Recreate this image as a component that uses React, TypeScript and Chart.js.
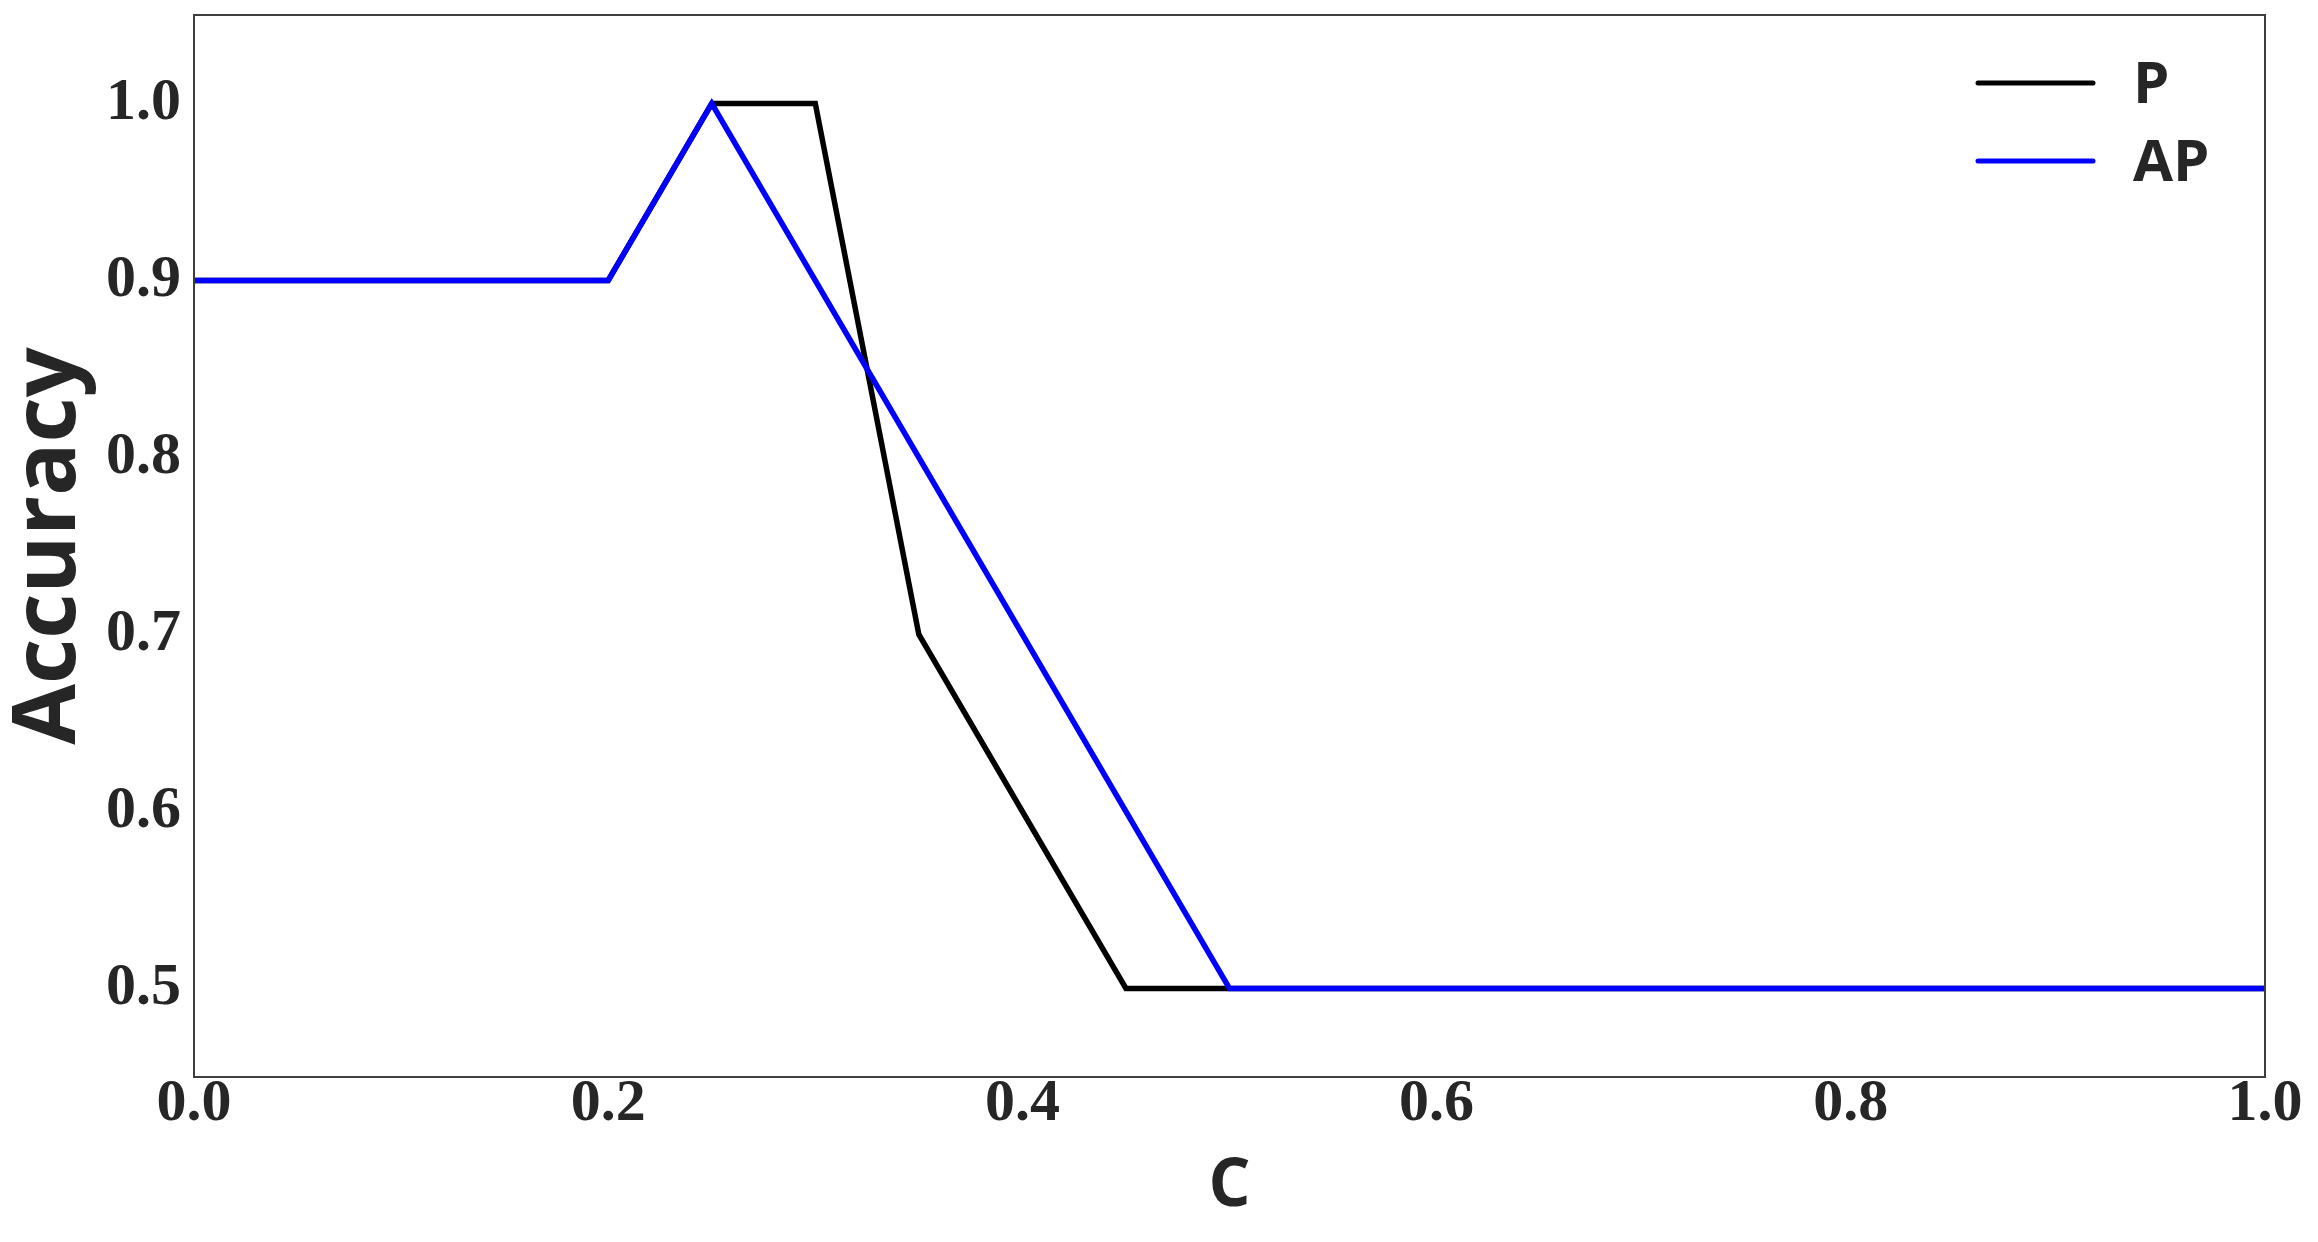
import React, { useEffect, useRef } from "react";
import { Chart, registerables } from "chart.js";

Chart.register(...registerables);

const C_VALUES = [0, 0.05, 0.1, 0.15, 0.2, 0.25, 0.3, 0.35, 0.4, 0.45, 0.5, 0.55, 0.6, 0.65, 0.7, 0.75, 0.8, 0.85, 0.9, 0.95, 1.0];
const P_VALUES = [0.9, 0.9, 0.9, 0.9, 0.9, 1.0, 1.0, 0.7, 0.6, 0.5, 0.5, 0.5, 0.5, 0.5, 0.5, 0.5, 0.5, 0.5, 0.5, 0.5, 0.5];
const AP_VALUES = [0.9, 0.9, 0.9, 0.9, 0.9, 1.0, 0.9, 0.8, 0.7, 0.6, 0.5, 0.5, 0.5, 0.5, 0.5, 0.5, 0.5, 0.5, 0.5, 0.5, 0.5];
const SERIES_LABELS = ["P", "AP"];
const SERIES_COLORS = ["#000000", "#0000ff"];
const X_TICKS = [0, 0.2, 0.4, 0.6, 0.8, 1.0];
const Y_TICKS = [0.5, 0.6, 0.7, 0.8, 0.9, 1.0];
const X_TITLE = "C";
const Y_TITLE = "Accuracy";

const TEXT_COLOR = "#262626";
const TICK_FONT = { family: "'Liberation Serif', serif", weight: "bold" as const, size: 60, lineHeight: 0.9 };

const framePlugin = {
  id: "frame",
  afterDatasetsDraw(chart: any) {
    const { ctx, chartArea } = chart;
    ctx.save();
    ctx.strokeStyle = "#3d3d3d";
    ctx.lineWidth = 2;
    ctx.strokeRect(chartArea.left, chartArea.top, chartArea.right - chartArea.left, chartArea.bottom - chartArea.top);
    ctx.restore();
  },
};

const legendPlugin = {
  id: "innerLegend",
  afterDraw(chart: any) {
    const { ctx } = chart;
    const x1 = 1978;
    const x2 = 2093;
    const tx = 2133;
    const y0 = 83;
    const dy = 78;
    ctx.save();
    chart.data.datasets.forEach((ds: any, i: number) => {
      const y = y0 + i * dy;
      ctx.strokeStyle = ds.borderColor;
      ctx.lineWidth = 5;
      ctx.lineCap = "round";
      ctx.beginPath();
      ctx.moveTo(x1, y);
      ctx.lineTo(x2, y);
      ctx.stroke();
      ctx.fillStyle = TEXT_COLOR;
      ctx.font = "bold 58px 'Open Sans'";
      ctx.textAlign = "left";
      ctx.textBaseline = "middle";
      ctx.fillText(ds.label, tx, y + 3);
    });
    ctx.restore();
  },
};

export default function App() {
  const canvasRef = useRef<HTMLCanvasElement | null>(null);

  useEffect(() => {
    const canvas = canvasRef.current;
    if (!canvas) return;
    const seriesValues = [P_VALUES, AP_VALUES];
    const chart = new Chart(canvas, {
      type: "line",
      data: {
        datasets: seriesValues.map((vals, i) => ({
          label: SERIES_LABELS[i],
          data: C_VALUES.map((c, j) => ({ x: c, y: vals[j] })),
          borderColor: SERIES_COLORS[i],
          backgroundColor: SERIES_COLORS[i],
          borderWidth: 5.5,
          pointRadius: 0,
          pointHoverRadius: 0,
          tension: 0,
          fill: false,
          borderJoinStyle: "miter",
          order: i === 1 ? 0 : 1,
        })),
      },
      options: {
        animation: false,
        responsive: false,
        devicePixelRatio: 1,
        layout: { padding: { top: 15, right: 53, bottom: 0, left: 0 } },
        plugins: {
          legend: { display: false },
          tooltip: { enabled: false },
        },
        scales: {
          x: {
            type: "linear",
            min: 0,
            max: 1,
            grid: { display: false, drawTicks: false },
            border: { display: false },
            afterBuildTicks: (scale: any) => {
              scale.ticks = X_TICKS.map((v) => ({ value: v }));
            },
            afterFit: (scale: any) => {
              scale.height = 165;
              scale.paddingLeft = 0;
              scale.paddingRight = 0;
            },
            ticks: {
              color: TEXT_COLOR,
              font: TICK_FONT,
              padding: 0,
              maxRotation: 0,
              autoSkip: false,
              callback: (v: any) => Number(v).toFixed(1),
            },
            title: {
              display: true,
              text: X_TITLE,
              color: TEXT_COLOR,
              font: { family: "'Open Sans', sans-serif", weight: "bold", size: 66, lineHeight: 1 },
              padding: { top: 0, bottom: 22 },
            },
          },
          y: {
            type: "linear",
            min: 0.45,
            max: 1.05,
            grid: { display: false, drawTicks: false },
            border: { display: false },
            afterBuildTicks: (scale: any) => {
              scale.ticks = Y_TICKS.map((v) => ({ value: v }));
            },
            afterFit: (scale: any) => {
              scale.width = 194;
              scale.paddingTop = 0;
              scale.paddingBottom = 0;
            },
            ticks: {
              color: TEXT_COLOR,
              font: TICK_FONT,
              padding: 13,
              autoSkip: false,
              callback: (v: any) => Number(v).toFixed(1),
            },
            title: {
              display: true,
              text: Y_TITLE,
              color: TEXT_COLOR,
              font: { family: "'Open Sans', sans-serif", weight: "bold", size: 88, lineHeight: 1 },
              padding: { top: 6, bottom: 0 },
            },
          },
        },
      },
      plugins: [framePlugin, legendPlugin],
    } as any);
    return () => chart.destroy();
  }, []);

  return (
    <div style={{ position: "fixed", left: 0, top: 0, width: 2318, height: 1242, background: "#ffffff" }}>
      <canvas ref={canvasRef} width={2318} height={1242} style={{ display: "block", width: 2318, height: 1242 }} />
    </div>
  );
}
